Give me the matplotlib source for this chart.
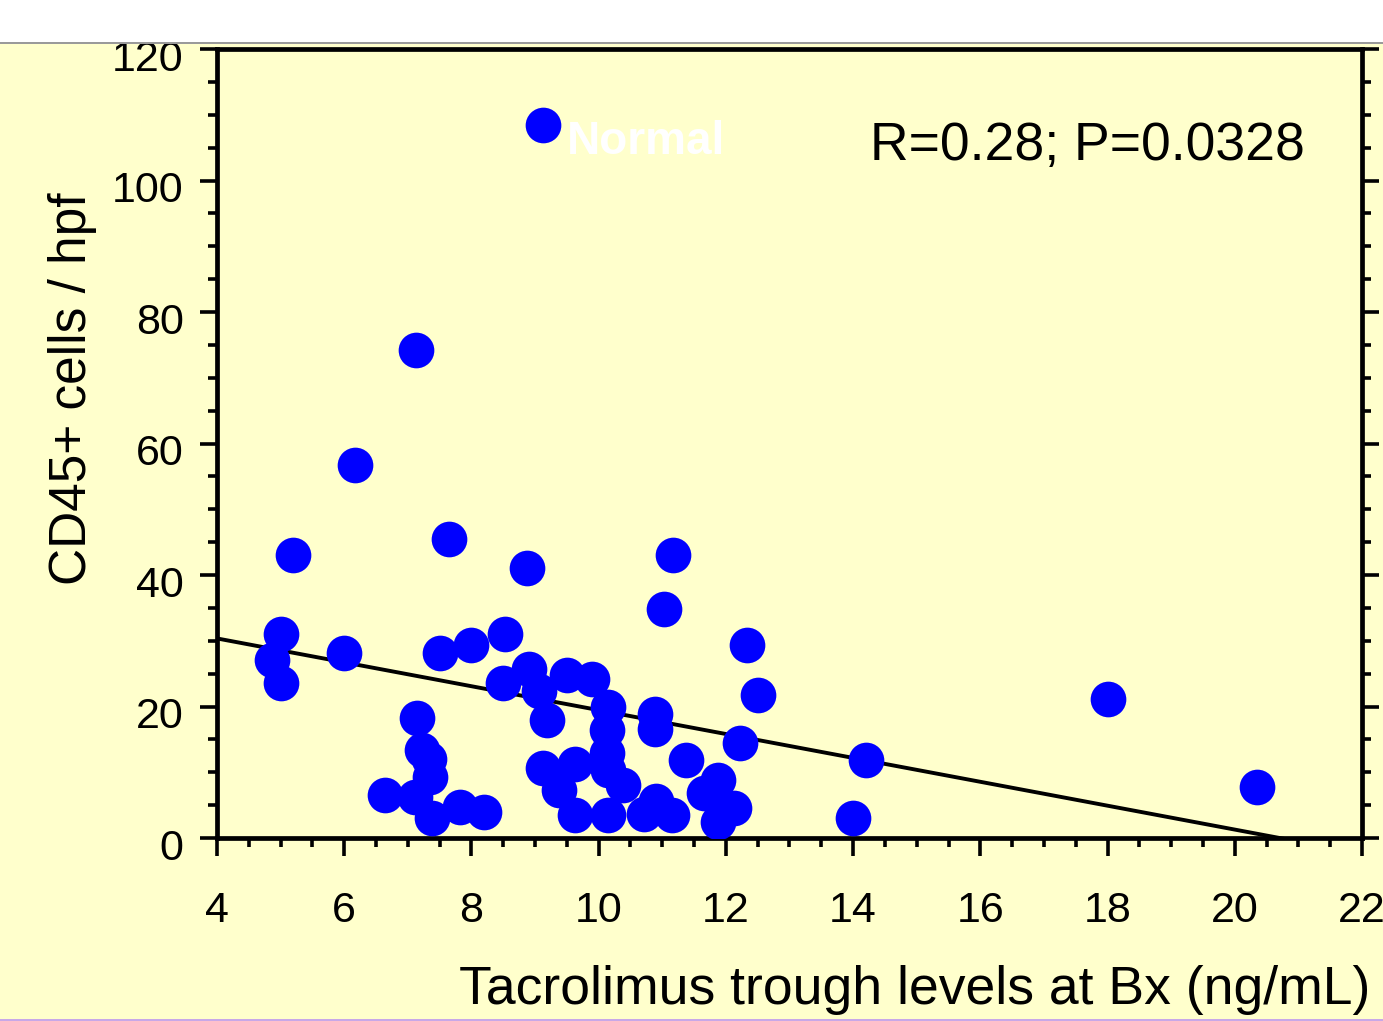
import matplotlib
matplotlib.use("Agg")
import matplotlib.pyplot as plt
import matplotlib.transforms as mtransforms
from matplotlib.patches import Rectangle
import numpy as np

plt.rcParams['font.family'] = ['Liberation Sans', 'DejaVu Sans']

# Datos
tacrolimus = [9.13, 7.13, 6.17, 5.20, 7.64, 8.87, 11.17, 11.02, 12.33, 12.51,
              18.00, 20.35, 14.21, 14.00, 5.00, 4.86, 5.00, 6.00, 7.51, 8.00,
              8.52, 8.50, 8.90, 9.06, 9.18, 9.50, 9.89, 10.15, 10.13, 10.13,
              10.15, 10.39, 9.13, 9.63, 9.37, 9.63, 10.15, 10.72, 10.90, 11.15,
              10.89, 10.89, 11.38, 11.88, 11.65, 12.12, 11.88, 12.22, 7.14, 7.22,
              7.33, 7.35, 6.64, 7.11, 7.38, 7.82, 8.19]
cd45 = [108.4, 74.2, 56.7, 43.0, 45.5, 41.0, 43.0, 34.9, 29.3, 21.7,
        21.1, 7.8, 11.85, 3.0, 31.1, 27.0, 23.5, 28.1, 28.1, 29.3,
        31.1, 23.6, 25.7, 22.3, 17.9, 24.8, 24.2, 19.9, 16.4, 12.9,
        10.3, 8.05, 10.6, 11.3, 7.3, 3.5, 3.5, 3.6, 5.7, 3.5,
        18.9, 16.6, 11.85, 8.8, 6.8, 4.5, 2.5, 14.4, 18.2, 13.4,
        12.0, 9.3, 6.5, 6.3, 3.0, 4.75, 4.0]

# Recta de regresion
reg_intercepto = 37.62
reg_pendiente = -1.817
texto_stats = "R=0.28; P=0.0328"
texto_grupo = "Normal"

fondo = "#FFFFCC"

fig = plt.figure(figsize=(13.83, 10.21), dpi=100, facecolor=fondo)
ax = fig.add_axes([217 / 1383, 1 - 838 / 1021, (1362 - 217) / 1383, (838 - 49) / 1021])
ax.set_facecolor(fondo)

ax.scatter(tacrolimus, cd45, s=660, c="#0000FF", linewidths=0, zorder=3)

linea_x = np.array([4, 22])
ax.plot(linea_x, reg_intercepto + reg_pendiente * linea_x, color="black", lw=2.8, zorder=2)

ax.set_xlim(4, 22)
ax.set_ylim(0, 120)
ax.set_xticks(np.arange(4, 23, 2))
ax.set_xticks(np.arange(4, 22.01, 0.5), minor=True)
ax.set_yticks(np.arange(0, 121, 20))
ax.set_yticks(np.arange(0, 121, 5), minor=True)

for s in ax.spines.values():
    s.set_linewidth(3.4)

ax.tick_params(which="both", direction="out", width=2.6, right=True, labelsize=31, colors="black")
ax.tick_params(axis="x", which="major", length=13, pad=25)
ax.tick_params(axis="y", which="major", length=12, pad=12)
ax.tick_params(which="minor", length=6.5)

# Desplazando un poco los labels del eje Y hacia abajo
desplazamiento = mtransforms.ScaledTranslation(0, -6 / 100, fig.dpi_scale_trans)
for etiqueta in ax.get_yticklabels():
    etiqueta.set_transform(etiqueta.get_transform() + desplazamiento)

ax.set_xlabel("Tacrolimus trough levels at Bx (ng/mL)", fontsize=38.5)
ax.xaxis.set_label_coords(0.609, -0.161)
ax.set_ylabel("CD45+ cells / hpf", fontsize=37)
ax.yaxis.set_label_coords(-0.126, 0.570)
ax.yaxis.label.set_va("center")

ax.text(9.5, 104.1, texto_grupo, color="white", fontsize=33, fontweight="bold",
        ha="left", va="baseline", zorder=4)
ax.text(14.27, 105.3, texto_stats, color="black", fontsize=38.5, ha="left", va="center")

# Recorte blanco superior como en la imagen original
fig.patches.append(Rectangle((0, 1 - 42 / 1021), 1, 42 / 1021, transform=fig.transFigure,
                             facecolor="white", edgecolor="none", zorder=10))
fig.patches.append(Rectangle((0, 1 - 44 / 1021), 1, 2 / 1021, transform=fig.transFigure,
                             facecolor="#9a9a9a", edgecolor="none", zorder=10))
fig.patches.append(Rectangle((0, 0), 1, 2 / 1021, transform=fig.transFigure,
                             facecolor="#c8a8e8", edgecolor="none", zorder=10))

fig.savefig("out.png", dpi=100, facecolor=fondo)
